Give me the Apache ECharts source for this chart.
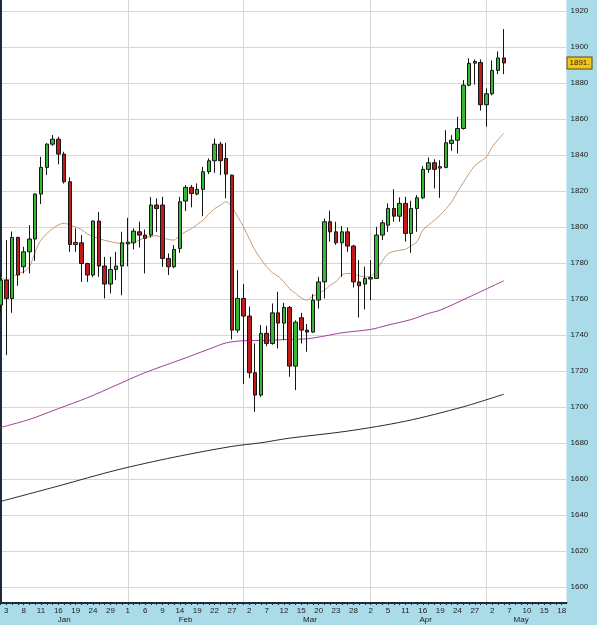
<!DOCTYPE html>
<html><head><meta charset="utf-8">
<script src="https://cdn.jsdelivr.net/npm/echarts@6/dist/echarts.min.js"></script>
<style>html,body{margin:0;padding:0;background:#a9dbe8}#c{width:597px;height:625px}</style>
</head><body><div id="c"></div><script>
// ---- data ----
const dayLabels = ["3","8","11","16","19","24","29","1","6","9","14","19","22","27","2","7","12","15","20","23","28","2","5","11","16","19","24","27","2","7","10","15","18"];
const monthNames = ["Jan","Feb","Mar","Apr","May"];
const monthLabelPos = [11,32,53.5,73.5,90];
const monthStarts = [22,42,64,84];
const opens = [1756.5,1770.4,1760.2,1794.1,1777.8,1786.1,1793.2,1818.2,1833,1845.9,1848.7,1840.4,1825,1790.2,1791.1,1779.6,1773.2,1803.2,1778.2,1768.2,1776.3,1778.2,1790.5,1791.1,1797.2,1795.4,1795.4,1812.1,1812.1,1782.4,1777.8,1788,1814.3,1821.9,1818.2,1820.8,1830.6,1836.7,1845.9,1838,1828.7,1742.6,1760.2,1750.4,1718.9,1706.5,1740.8,1735.2,1752.2,1746.5,1755.2,1722.6,1749.5,1742.6,1741.5,1759.3,1769.4,1802.8,1797.2,1791.1,1797.2,1789.3,1769.4,1768.2,1771,1771.3,1795.4,1800.9,1810.2,1805.9,1813,1796.3,1810.2,1816.1,1831.9,1835.6,1832.6,1833,1846.3,1848.1,1854.6,1878.7,1890.9,1891.3,1867.8,1873.9,1886.9,1893.8];
const closes = [1770.4,1760.2,1794.1,1773.2,1786.1,1793.2,1818.2,1833,1845.9,1848.7,1840.4,1825,1790.2,1791.3,1779.6,1773.2,1803.2,1778.2,1768.2,1776.3,1778.2,1791.1,1791.5,1797.6,1795.4,1793.6,1812.1,1810.2,1782.4,1777.8,1787.4,1813.9,1821.9,1818.5,1820.8,1830.6,1836.7,1845.9,1836.7,1829.3,1742.6,1760.2,1750.4,1718.9,1706.5,1740.8,1735.2,1752.2,1746.5,1755.2,1722.6,1747,1742.6,1741.5,1759.3,1769.4,1802.8,1797.2,1791.1,1797.2,1789.3,1769.4,1767.2,1771.3,1771.8,1795.4,1802.2,1810.2,1805.9,1813,1796.3,1810.2,1816.1,1831.9,1835.6,1831.9,1833.4,1846.7,1848.1,1854.6,1878.7,1890.8,1891.8,1867.8,1873.9,1886.9,1893.8,1891];
const lows = [1752,1728.7,1752.2,1767.2,1774.1,1774.1,1781.1,1812.6,1828.7,1845,1834.7,1824,1786.1,1786.1,1769.4,1769.4,1772,1772.2,1760.2,1763,1770.4,1762,1778,1787.4,1788.5,1774.1,1794,1797.2,1777.8,1773.2,1777,1785.5,1808.7,1810.8,1817.5,1805.9,1829.3,1830,1828.7,1815.8,1737.4,1741.1,1712.6,1716,1697.2,1705.5,1733.7,1734.5,1732.4,1737,1716.7,1709.3,1735.2,1730.6,1741,1754.6,1760.2,1791.7,1790,1772.2,1786.1,1766.3,1749.6,1754.1,1759.3,1771,1792.6,1797.2,1802.8,1802.8,1791.7,1785.6,1797.2,1815.5,1830,1821.3,1816.1,1832.5,1842.2,1840.7,1854,1878,1879,1864.6,1855.6,1873,1884.8,1884.8];
const highs = [1774,1792.6,1797.4,1794.5,1788.9,1800.9,1818.5,1838.9,1846.5,1851,1850,1841.7,1827.5,1799.1,1795.4,1780,1803.5,1808.3,1783.3,1783.3,1786.1,1797.2,1805,1799.1,1802.8,1798.5,1816.5,1815.8,1816.7,1785.2,1789.8,1816.7,1823.2,1823.2,1824.1,1833.3,1838,1849.1,1847.2,1846.7,1829,1775.9,1768.2,1755.6,1735.2,1745.4,1745,1757.4,1763.9,1757.8,1756,1748,1752.2,1746,1762.6,1772.2,1804.6,1808.9,1802.8,1800.4,1799.6,1790,1781.5,1777.8,1781.5,1800,1803.7,1813,1820.9,1816.3,1816.7,1814.5,1817.6,1833.7,1838.5,1837.5,1837,1853.7,1850.9,1861.1,1881.5,1893.6,1893,1893,1876.9,1892.4,1897.4,1909.8];
const ma20 = [[0,1772.2],[1,1770.5],[3,1774],[4,1775],[5,1777.8],[6,1786],[7,1792.6],[9,1799],[11,1802],[12,1801],[14,1798.5],[15,1796],[17,1793.5],[19,1791.7],[21,1790.8],[23,1791.3],[25,1794],[27,1795],[28,1793.8],[30,1792.6],[31,1795.4],[33,1799],[35,1803.7],[36,1807],[37,1810],[38,1812],[39,1813.9],[40,1811],[41,1805.6],[42,1800],[44,1787],[46,1777.8],[47,1774.5],[48,1772.5],[49,1769.4],[50,1765.5],[51,1763],[52,1760.5],[53,1759.3],[54,1761.5],[55,1763],[56,1764.8],[57,1767.5],[58,1769.5],[59,1773.2],[60,1774.1],[62,1772.8],[63,1772.2],[64,1772.5],[65,1776],[67,1785],[69,1787],[70,1787.5],[71,1789.5],[72,1791.7],[73,1798.1],[75,1803.7],[76,1806.5],[78,1813.9],[79,1819.5],[81,1829.6],[82,1834],[84,1838.9],[85,1844.4],[87,1852]];
const ma50 = [[0,1688.5],[5,1693],[10,1699],[15,1705],[20,1712],[25,1719],[31,1726],[36,1732],[39,1735.5],[42,1736.7],[46,1736.9],[50,1737.5],[53,1737.8],[56,1739.3],[59,1741.1],[64,1743],[67,1745.4],[71,1748.5],[74,1751.9],[76,1753.7],[81,1761],[87,1770]];
const ma200 = [[0,1647.4],[10,1656],[20,1664.8],[30,1672],[40,1678],[45,1680],[50,1682.6],[60,1686.5],[70,1692],[80,1700],[87,1707]];
const lastLabel = "1891.";

// ---- chart ----
const candles = opens.map((o,i)=>[i,o,closes[i],lows[i],highs[i]]);
const dayIdx = dayLabels.map((d,k)=>1+3*k);
const allIdx = []; for(let i=0;i<98;i++) allIdx.push(i);
const yMaj=[], yMin=[]; for(let v=1600;v<=1920;v+=10){ yMin.push(v); if(v%20===0) yMaj.push(v); }
const XMIN=-0.0864, XMAX=97.84, YMIN=1591, YMAX=1926;
const lastClose = closes[closes.length-1];
const font = 'Liberation Sans, Arial, sans-serif';
const chart = echarts.init(document.getElementById('c'), null, {renderer:'canvas'});
chart.setOption({
  animation:false,
  backgroundColor:'#a9dbe8',
  grid:{left:0,right:30.5,top:0,bottom:22,show:true,backgroundColor:'#ffffff',borderWidth:0},
  xAxis:[
    {type:'value',min:XMIN,max:XMAX,position:'bottom',
     axisLine:{show:true,onZero:false,lineStyle:{color:'#1d2b3a',width:2}},
     axisTick:{show:true,customValues:allIdx,length:2,lineStyle:{color:'#1d2b3a'}},
     axisLabel:{show:true,customValues:dayIdx,formatter:v=>dayLabels[Math.round((v-1)/3)],fontSize:8,color:'#222',margin:4,fontFamily:font},
     splitLine:{show:false}},
    {type:'value',min:XMIN,max:XMAX,position:'bottom',offset:9,
     axisLine:{show:false},
     axisTick:{show:false,customValues:monthStarts},
     axisLabel:{show:true,customValues:monthLabelPos,formatter:v=>monthNames[monthLabelPos.indexOf(v)],fontSize:8,color:'#222',margin:4,fontFamily:font},
     splitLine:{show:true,lineStyle:{color:'#d6d6d6',width:1}}}
  ],
  yAxis:[
    {type:'value',min:YMIN,max:YMAX,position:'right',
     axisLine:{show:true,lineStyle:{color:'#1d2b3a',width:2}},
     axisTick:{show:true,inside:true,customValues:yMin,length:5,lineStyle:{color:'#1d2b3a'}},
     axisLabel:{show:true,customValues:yMaj,formatter:v=>String(v),fontSize:8,color:'#222',margin:4,fontFamily:font},
     splitLine:{show:false}},
    {type:'value',min:YMIN,max:YMAX,position:'right',
     axisLine:{show:false},axisTick:{show:false,customValues:yMaj},
     axisLabel:{show:true,customValues:[lastClose],formatter:()=>lastLabel,margin:1,fontSize:8,color:'#222',fontFamily:font,
       backgroundColor:'#f6c617',borderColor:'#5a4a10',borderWidth:1,padding:[2,2,1,2]},
     splitLine:{show:true,lineStyle:{color:'#d6d6d6',width:1}}}
  ],
  series:[
    {type:'line',xAxisIndex:0,yAxisIndex:0,data:ma200,showSymbol:false,smooth:0.3,lineStyle:{color:'#2a2a2a',width:1},z:2},
    {type:'line',xAxisIndex:0,yAxisIndex:0,data:ma50,showSymbol:false,smooth:0.3,lineStyle:{color:'#9b3f97',width:1},z:2},
    {type:'line',xAxisIndex:0,yAxisIndex:0,data:ma20,showSymbol:false,smooth:0.3,lineStyle:{color:'#c49a74',width:1},z:2},
    {type:'candlestick',xAxisIndex:0,yAxisIndex:0,data:candles,barWidth:4,z:3,
     itemStyle:{color:'#35b935',color0:'#bf1b1b',borderColor:'#151515',borderColor0:'#151515',borderWidth:1}}
  ]
});
</script></body></html>
